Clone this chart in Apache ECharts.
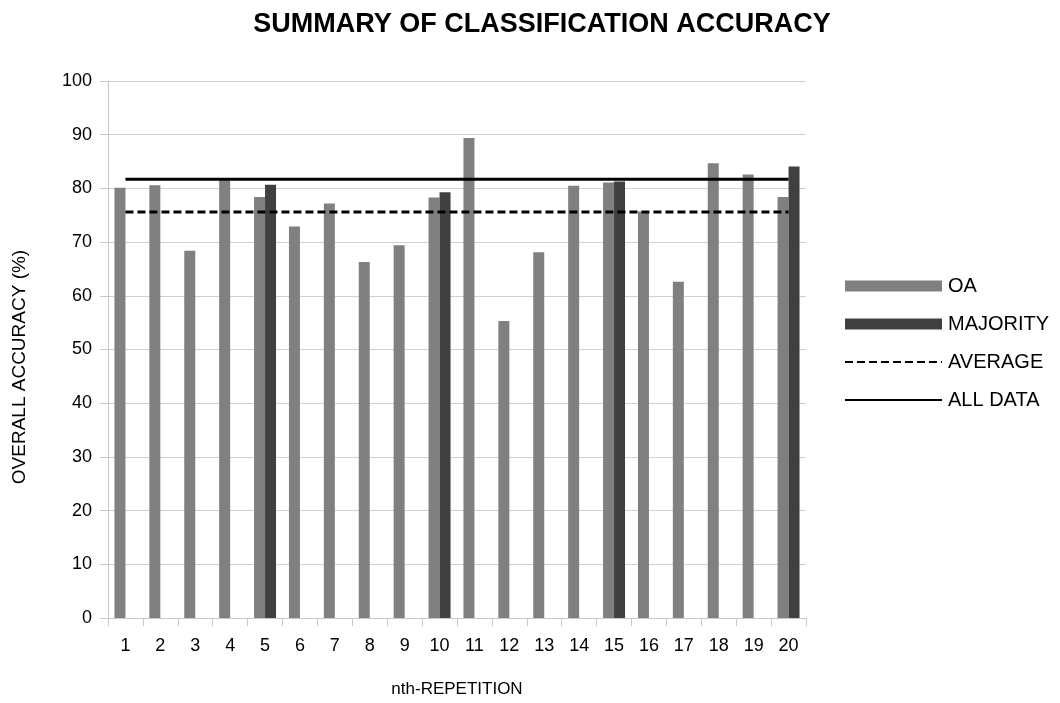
<!DOCTYPE html>
<html><head><meta charset="utf-8">
<script src="https://cdn.jsdelivr.net/npm/echarts@6/dist/echarts.min.js"></script>
<style>html,body{margin:0;padding:0;background:#fff}#c{width:1060px;height:703px}</style>
</head><body><div id="c"></div>
<script>
const categories = ['1','2','3','4','5','6','7','8','9','10','11','12','13','14','15','16','17','18','19','20'];
const oaValues = [80.1,80.6,68.4,81.6,78.4,72.9,77.2,66.3,69.4,78.3,89.4,55.3,68.1,80.5,81.1,75.7,62.6,84.7,82.6,78.4];
const majorityValues = [null,null,null,null,80.7,null,null,null,null,79.3,null,null,null,null,81.3,null,null,null,null,84.1];
const averageValue = 75.6;
const allDataValue = 81.7;
const averageValues = categories.map(() => averageValue);
const allDataValues = categories.map(() => allDataValue);
const yTicks = {min:0, max:100, interval:10};

const font = 'Liberation Sans, Arial, sans-serif';
const hidden = {color:'rgba(0,0,0,0)', borderColor:'rgba(0,0,0,0)', borderWidth:0, opacity:0};
const chart = echarts.init(document.getElementById('c'));
chart.setOption({
  animation:false,
  backgroundColor:'#fff',
  title:{text:'SUMMARY OF CLASSIFICATION ACCURACY', left:537, textAlign:'center', top:6,
    textStyle:{fontFamily:font, fontWeight:'bold', fontSize:27, color:'#000'}},
  grid:{left:108, right:254, top:81, bottom:82},
  legend:{orient:'vertical', left:839, top:271, itemWidth:97, itemHeight:11, itemGap:18,
    textStyle:{fontFamily:font, fontSize:20, color:'#000', padding:[0,0,0,1]},
    data:[{name:'OA', icon:'rect'},{name:'MAJORITY', icon:'rect'},
          {name:'AVERAGE', itemStyle:hidden},{name:'ALL DATA', itemStyle:hidden}]},
  graphic:[{type:'text', x:20, y:367, rotation:Math.PI/2,
    style:{text:'OVERALL ACCURACY (%)', font:'19px ' + font, fill:'#000',
      align:'center', verticalAlign:'middle'}}],
  xAxis:{type:'category', data:categories, boundaryGap:true,
    name:'nth-REPETITION', nameLocation:'middle', nameGap:63,
    nameTextStyle:{fontFamily:font, fontSize:17, color:'#000'},
    axisLine:{lineStyle:{color:'#c8c8c8', width:1}},
    axisTick:{show:true, alignWithLabel:false, length:8, lineStyle:{color:'#c8c8c8'}},
    axisLabel:{fontFamily:font, fontSize:18, color:'#000', margin:19, interval:0},
    splitLine:{show:false}},
  yAxis:{type:'value', min:yTicks.min, max:yTicks.max, interval:yTicks.interval,
    axisLine:{show:true, lineStyle:{color:'#c8c8c8'}},
    axisTick:{show:true, length:8, lineStyle:{color:'#c8c8c8'}},
    axisLabel:{fontFamily:font, fontSize:18, color:'#000', margin:16},
    splitLine:{show:true, lineStyle:{color:'#d0d0d0', width:1}}},
  series:[
    {name:'OA', type:'bar', data:oaValues, barWidth:11, barGap:'0%',
      itemStyle:{color:'#808080'}},
    {name:'MAJORITY', type:'bar', data:majorityValues, barWidth:11, barGap:'0%',
      itemStyle:{color:'#404040'}},
    {name:'AVERAGE', type:'line', data:averageValues, symbol:'none', z:5,
      lineStyle:{color:'#000', width:3, type:[8,4]}, itemStyle:{color:'#000'}},
    {name:'ALL DATA', type:'line', data:allDataValues, symbol:'none', z:5,
      lineStyle:{color:'#000', width:3}, itemStyle:{color:'#000'}}
  ]
});
</script></body></html>
